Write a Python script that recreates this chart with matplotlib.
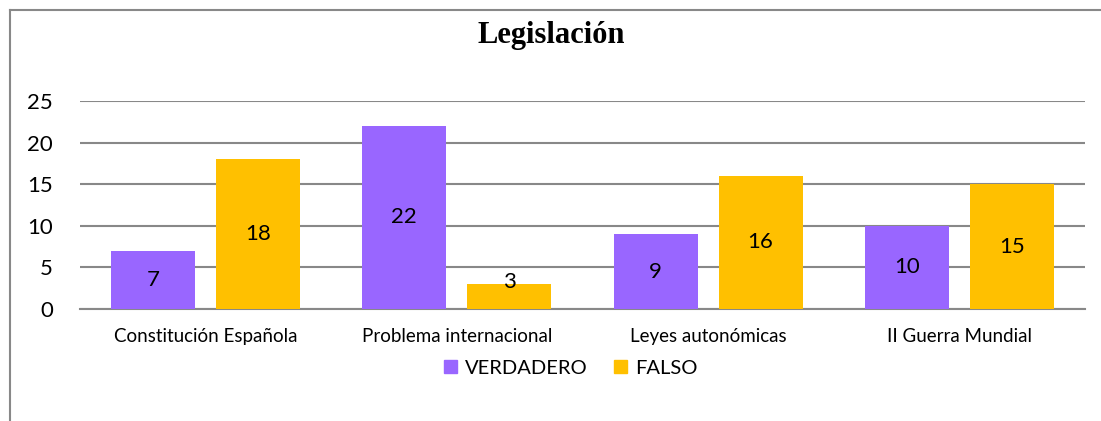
import matplotlib
matplotlib.use("Agg")
import matplotlib.pyplot as plt
import numpy as np
from matplotlib.patches import Rectangle
from matplotlib.lines import Line2D

categories = ["Constitución Española", "Problema internacional", "Leyes autonómicas", "II Guerra Mundial"]
verdadero = [7, 22, 9, 10]
falso = [18, 3, 16, 15]
series_names = ["VERDADERO", "FALSO"]
yticks = [0, 5, 10, 15, 20, 25]

PURPLE = "#9966FF"
GOLD = "#FFC000"
FONT = ["Lato", "DejaVu Sans"]

fig = plt.figure(figsize=(11.01, 4.21), dpi=100)
fig.patch.set_facecolor("white")
# outer border (left and top visible)
fig.add_artist(Line2D([10/1101, 10/1101], [0, 1 - 10/421], color="#888888", lw=1.5, transform=fig.transFigure))
fig.add_artist(Line2D([10/1101, 1], [1 - 10/421, 1 - 10/421], color="#888888", lw=1.5, transform=fig.transFigure))

ax = fig.add_axes([80/1101, 1 - 309/421, 1005/1101, 208/421])
x = np.arange(len(categories))
w = 0.335
off = 0.209
b1 = ax.bar(x - off, verdadero, w, color=PURPLE, label=series_names[0], zorder=3)
b2 = ax.bar(x + off, falso, w, color=GOLD, label=series_names[1], zorder=3)

for bars, vals in ((b1, verdadero), (b2, falso)):
    for r, v in zip(bars, vals):
        ax.text(r.get_x() + r.get_width() / 2, max(v / 2, 3.25), str(v), ha="center", va="center",
                fontsize=16, family=FONT, color="black", zorder=4)

ax.set_xlim(-0.5, len(categories) - 0.5)
ax.set_ylim(0, 25)
ax.set_yticks(yticks)
ax.set_yticklabels([str(t) for t in yticks], fontsize=16, family=FONT)
ax.set_xticks(x)
ax.set_xticklabels(categories, fontsize=13.5, family=FONT)
ax.tick_params(axis="both", length=0)
ax.tick_params(axis="y", pad=19.5)
ax.tick_params(axis="x", pad=14)
ax.grid(axis="y", color="#888888", lw=1.5, zorder=0)
for s in ["top", "right", "left"]:
    ax.spines[s].set_visible(False)
ax.spines["bottom"].set_color("#888888")
ax.spines["bottom"].set_linewidth(1.5)

fig.text(551/1101, 1 - 35/421, "Legislación", ha="center", va="center", fontsize=22,
         fontweight="bold", family=["Liberation Serif", "DejaVu Serif"])

handles = [Rectangle((0, 0), 1, 1, color=PURPLE), Rectangle((0, 0), 1, 1, color=GOLD)]
fig.legend(handles, series_names, loc="center", bbox_to_anchor=(571/1101, 1 - 368/421), ncol=2,
           frameon=False, prop={"family": FONT, "size": 14.5}, handlelength=0.65, handleheight=0.65,
           handletextpad=0.4, columnspacing=1.3)

fig.savefig("out.png", dpi=100)
